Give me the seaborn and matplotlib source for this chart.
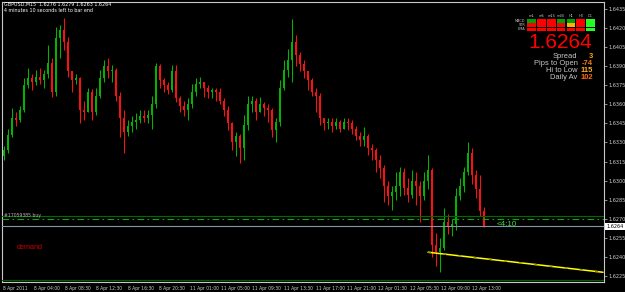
import matplotlib
matplotlib.use("Agg")
import matplotlib.pyplot as plt
import matplotlib.transforms as mtransforms
import seaborn as sns
import pandas as pd
from matplotlib import font_manager as fm
from matplotlib.patches import Rectangle

# ---------------- data ----------------
first_open = 1.6319
closes = [
    1.6324, 1.6336, 1.6349, 1.6348, 1.6356, 1.6375, 1.6381, 1.6378, 1.6382, 1.6379,
    1.6384, 1.6393, 1.6370, 1.6412, 1.6419, 1.6409, 1.6386, 1.6379, 1.6381, 1.6356,
    1.6354, 1.6370, 1.6354, 1.6367, 1.6381, 1.6390, 1.6386, 1.6387, 1.6367, 1.6349,
    1.6338, 1.6343, 1.6346, 1.6348, 1.6351, 1.6349, 1.6352, 1.6360, 1.6390, 1.6379,
    1.6375, 1.6371, 1.6386, 1.6365, 1.6359, 1.6356, 1.6360, 1.6370, 1.6376, 1.6378,
    1.6373, 1.6370, 1.6371, 1.6370, 1.6363, 1.6356, 1.6345, 1.6330, 1.6335, 1.6326,
    1.6344, 1.6360, 1.6363, 1.6354, 1.6360, 1.6357, 1.6356, 1.6340, 1.6346, 1.6373,
    1.6387, 1.6395, 1.6409, 1.6399, 1.6392, 1.6386, 1.6379, 1.6370, 1.6367, 1.6349,
    1.6345, 1.6346, 1.6343, 1.6346, 1.6341, 1.6346, 1.6345, 1.6341, 1.6335, 1.6332,
    1.6335, 1.6326, 1.6324, 1.6316, 1.6310, 1.6296, 1.6288, 1.6291, 1.6296, 1.6307,
    1.6294, 1.6289, 1.6300, 1.6296, 1.6288, 1.6300, 1.6308, 1.6249, 1.6244, 1.6247,
    1.6267, 1.6263, 1.6266, 1.6288, 1.6296, 1.6307, 1.6322, 1.6304, 1.6293, 1.6276,
    1.6264,
]
highs = [
    1.6327, 1.6341, 1.6357, 1.6354, 1.6359, 1.6381, 1.6389, 1.6384, 1.6387, 1.6389,
    1.6387, 1.6407, 1.6397, 1.6421, 1.6423, 1.6428, 1.6413, 1.6386, 1.6384, 1.6382,
    1.6363, 1.6373, 1.6372, 1.6373, 1.6387, 1.6395, 1.6397, 1.6391, 1.6389, 1.6370,
    1.6356, 1.6348, 1.6351, 1.6353, 1.6356, 1.6356, 1.6356, 1.6367, 1.6393, 1.6392,
    1.6381, 1.6378, 1.6391, 1.6391, 1.6367, 1.6363, 1.6365, 1.6376, 1.6381, 1.6382,
    1.6378, 1.6375, 1.6373, 1.6373, 1.6373, 1.6365, 1.6359, 1.6346, 1.6338, 1.6337,
    1.6352, 1.6367, 1.6367, 1.6365, 1.6366, 1.6362, 1.6360, 1.6357, 1.6349, 1.6379,
    1.6395, 1.6404, 1.6427, 1.6415, 1.6401, 1.6395, 1.6386, 1.6381, 1.6373, 1.6369,
    1.6349, 1.6349, 1.6349, 1.6349, 1.6348, 1.6349, 1.6349, 1.6348, 1.6343, 1.6338,
    1.6342, 1.6337, 1.6329, 1.6326, 1.6320, 1.6312, 1.6300, 1.6296, 1.6307, 1.6311,
    1.6310, 1.6302, 1.6308, 1.6307, 1.6300, 1.6307, 1.6320, 1.6310, 1.6259, 1.6255,
    1.6278, 1.6274, 1.6270, 1.6294, 1.6302, 1.6311, 1.6330, 1.6326, 1.6308, 1.6304,
    1.6279,
]
lows = [
    1.6316, 1.6322, 1.6334, 1.6343, 1.6346, 1.6354, 1.6373, 1.6371, 1.6375, 1.6376,
    1.6373, 1.6381, 1.6366, 1.6367, 1.6397, 1.6403, 1.6382, 1.6370, 1.6376, 1.6345,
    1.6348, 1.6354, 1.6348, 1.6352, 1.6365, 1.6378, 1.6381, 1.6378, 1.6363, 1.6334,
    1.6322, 1.6335, 1.6338, 1.6341, 1.6345, 1.6346, 1.6345, 1.6341, 1.6357, 1.6373,
    1.6370, 1.6368, 1.6370, 1.6362, 1.6354, 1.6351, 1.6348, 1.6357, 1.6367, 1.6373,
    1.6366, 1.6365, 1.6365, 1.6363, 1.6360, 1.6351, 1.6340, 1.6324, 1.6319, 1.6314,
    1.6316, 1.6340, 1.6354, 1.6348, 1.6354, 1.6351, 1.6346, 1.6334, 1.6330, 1.6343,
    1.6371, 1.6382, 1.6378, 1.6390, 1.6386, 1.6381, 1.6371, 1.6367, 1.6354, 1.6344,
    1.6340, 1.6341, 1.6338, 1.6341, 1.6338, 1.6341, 1.6340, 1.6337, 1.6332, 1.6327,
    1.6327, 1.6320, 1.6316, 1.6307, 1.6302, 1.6283, 1.6281, 1.6277, 1.6285, 1.6288,
    1.6289, 1.6283, 1.6286, 1.6281, 1.6267, 1.6285, 1.6293, 1.6240, 1.6233, 1.6228,
    1.6245, 1.6258, 1.6256, 1.6261, 1.6285, 1.6291, 1.6304, 1.6297, 1.6286, 1.6272,
    1.6263,
]

symbol_title = "GBPUSD,M15  1.6276 1.6279 1.6263 1.6264"
timer_text = "4 minutes 10 seconds left to bar end"

time_tick_pos = [-0.25, 7.5, 15.25, 23, 31, 38.75, 46.5, 54.25, 62, 70, 78,
                 85.75, 93.5, 101.5, 109.25, 117]
time_tick_labels = ["8 Apr 2011", "8 Apr 04:00", "8 Apr 08:30", "8 Apr 12:30",
                    "8 Apr 16:30", "8 Apr 20:30", "11 Apr 01:00", "11 Apr 05:00",
                    "11 Apr 09:30", "11 Apr 13:30", "11 Apr 17:00", "11 Apr 21:00",
                    "12 Apr 01:30", "12 Apr 05:30", "12 Apr 09:00", "12 Apr 13:00"]
price_ticks = [1.6225, 1.6240, 1.6255, 1.6270, 1.6285, 1.6300, 1.6315, 1.6330,
               1.6345, 1.6360, 1.6375, 1.6390, 1.6405, 1.6420, 1.6435]

order_level = 1.6270
order_label = "#17059385 buy"
resist_level = 1.6272
bid_price = 1.6264
support_level = 1.6222
trend_x = [106, 149.75]
trend_y = [1.62435, 1.62277]
timer_label = "<4:10"
zone_label = "demand"

timeframes = ["m1", "m5", "m15", "m30", "H1", "H4", "D1"]
indicators = ["MACD", "STR", "EMA"]
signal_states = [
    ["g", "r", "r", "g", "g", "r", "L"],
    ["r", "r", "r", "r", "o", "r", "L"],
    ["r", "r", "r", "r", "r", "r", "L"],
]
big_price_text = "1.6264"
info_labels = ["Spread", "Pips to Open", "Hi to Low", "Daily Av"]
info_values = ["3", "-74", "115", "102"]
info_colors = ["#ffa500", "#ff7a10", "#ffb020", "#ff6a10"]

# ---------------- style ----------------
sns.set_theme(style="dark", rc={"axes.facecolor": "black",
                                "figure.facecolor": "black",
                                "axes.grid": False})
names = {f.name for f in fm.fontManager.ttflist}
ARIAL = "Liberation Sans" if "Liberation Sans" in names else "DejaVu Sans"

# look for a condensed / narrow sans face for the tiny terminal texts
narrow_path = None
for f in fm.fontManager.ttflist:
    low = (f.name + " " + f.fname).lower()
    if ("narrow" in low or "condensed" in low) and "bold" not in low \
            and "italic" not in low and "oblique" not in low and "serif" not in f.name.lower() \
            and "mono" not in low:
        narrow_path = f.fname
        break
plt.rcParams["font.family"] = [ARIAL, "DejaVu Sans"]


def small_font(size):
    if narrow_path:
        return fm.FontProperties(fname=narrow_path, size=size)
    return fm.FontProperties(family=[ARIAL, "DejaVu Sans"], size=size * 0.82)


W, H = 625, 292
fig = plt.figure(figsize=(W / 100, H / 100), dpi=100)
fig.patch.set_facecolor("black")
ax = fig.add_axes([2 / W, 1 - 282 / H, 602 / W, 280.5 / H])
ax.set_facecolor("black")


def fx(px):
    return px / W


def fy(py):
    return 1 - py / H


# ---------------- candles ----------------
opens = [first_open] + closes[:-1]
df = pd.DataFrame({"open": opens, "high": highs, "low": lows, "close": closes})
df["x"] = range(len(df))
df["bull"] = df["close"] >= df["open"]
bull_c, bear_c = "#00b400", "#ff1010"
colors = [bull_c if b else bear_c for b in df["bull"]]
ax.vlines(df["x"], df["low"], df["high"], colors=colors, lw=0.75, zorder=2)
body = (df["close"] - df["open"]).abs().clip(lower=0.00005)
bottom = df[["open", "close"]].min(axis=1)
ax.bar(df["x"], body, bottom=bottom, width=0.5, color=colors, linewidth=0, zorder=2)

# ---------------- level lines ----------------
ax.axhline(resist_level, color="#006a00", lw=0.8, zorder=3)
ax.axhline(order_level, color="#00b000", lw=0.8, ls=(0, (6, 3, 1.5, 3)), zorder=3)
ax.axhline(bid_price, color="#8a94a6", lw=0.8, zorder=3)
ax.axhline(support_level, color="#005a00", lw=0.9, zorder=3)
sns.lineplot(x=trend_x, y=trend_y, color="#ffff00", lw=1.1, ax=ax, zorder=4)
ax.plot(trend_x, trend_y, color="#9a9a00", lw=1.1, ls=(0, (2, 8)), zorder=5)

ax.set_xlim(-0.5, 150)
ax.set_ylim(1.622003, 1.644115)

# ---------------- axes ----------------
for s in ax.spines.values():
    s.set_color("#c8c8c8")
    s.set_linewidth(0.8)
ax.yaxis.tick_right()
ax.set_yticks(price_ticks)
ax.set_yticklabels([f"{v:.4f}" for v in price_ticks], fontproperties=small_font(4.0))
ax.set_xticks(time_tick_pos)
ax.set_xticklabels(time_tick_labels, ha="left", fontproperties=small_font(3.6))
ax.tick_params(axis="both", colors="#c8c8c8", labelcolor="#d0d0d0",
               length=2, width=0.5, pad=1, direction="out")
ax.tick_params(axis="x", pad=0.8)
ax.set_xlabel("")
ax.set_ylabel("")

# current price label
trans = mtransforms.blended_transform_factory(ax.transAxes, ax.transData)
ax.text(1.004, bid_price, big_price_text, transform=trans,
        fontproperties=small_font(4.0),
        color="black", va="center", ha="left",
        bbox=dict(fc="white", ec="none", pad=0.7), clip_on=False, zorder=6)

# ---------------- chart texts ----------------
fig.text(fx(4), fy(4.5), symbol_title, fontproperties=small_font(3.9), color="white",
         va="center", ha="left")
fig.text(fx(4), fy(10.5), timer_text, fontproperties=small_font(3.9), color="white",
         va="center", ha="left")
fig.text(fx(4), fy(215.3), order_label, fontproperties=small_font(3.7), color="#b0b0b0",
         va="center", ha="left")
fig.text(fx(17), fy(247.5), zone_label, fontsize=5.2, color="#c80000", va="center",
         ha="left")
fig.text(fx(497), fy(224.5), timer_label, fontsize=5.8, color="#36e036", va="center",
         ha="left")

# ---------------- indicator panel ----------------
cell_colors = {"g": "#00a000", "r": "#ff0000", "L": "#22ff22", "o": "#ffb000"}
cx0, cw, cgap = 527.3, 8.8, 1.0
ry0, rh, rgap = 19.0, 3.6, 0.75
for j, tf in enumerate(timeframes):
    fig.text(fx(cx0 + j * (cw + cgap) + cw / 2), fy(15.7), tf,
             fontproperties=small_font(2.8), color="#c0c0c0", ha="center", va="center")
for i, name in enumerate(indicators):
    yy = ry0 + i * (rh + rgap)
    fig.text(fx(525.5), fy(yy + rh / 2), name, fontproperties=small_font(2.8),
             color="#c0c0c0", ha="right", va="center")
    for j, st in enumerate(signal_states[i]):
        xx = cx0 + j * (cw + cgap)
        fig.add_artist(Rectangle((fx(xx), fy(yy + rh)), cw / W, rh / H,
                                 transform=fig.transFigure, facecolor=cell_colors[st],
                                 edgecolor="none"))

fig.text(fx(592), fy(48.5), big_price_text, fontsize=15, color="#ff0000",
         ha="right", va="baseline")
info_y = [56.2, 63.2, 70.4, 77.6]
for lab, val, col, yy in zip(info_labels, info_values, info_colors, info_y):
    fig.text(fx(577.5), fy(yy), lab, fontsize=5.4, color="#c8c8c8", ha="right",
             va="center")
    fig.text(fx(593), fy(yy), val, fontsize=5.4, color=col, ha="right",
             va="center", weight="bold")

fig.savefig("out.png", dpi=100, facecolor="black")
